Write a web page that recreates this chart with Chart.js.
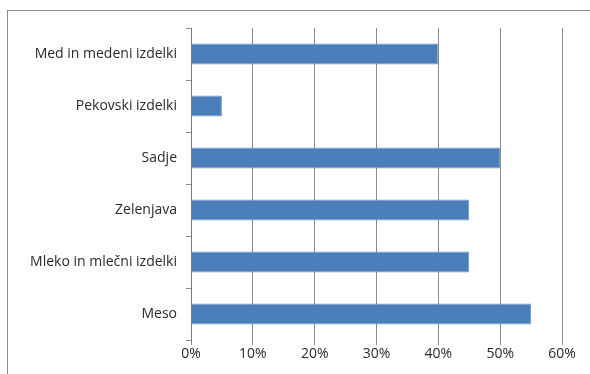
<!DOCTYPE html>
<html>
<head>
<meta charset="utf-8">
<script src="https://cdn.jsdelivr.net/npm/chart.js@4/dist/chart.umd.min.js"></script>
<style>
  html, body { margin: 0; padding: 0; background: #fff; }
  #wrap { position: relative; width: 590px; height: 374px; }
  #frame { position: absolute; left: 7px; top: 10px; width: 600px; height: 400px;
           border-top: 1px solid #8a8a8a; border-left: 1px solid #8a8a8a; }
  canvas { position: absolute; left: 0; top: 0; }
</style>
</head>
<body>
<div id="wrap">
  <div id="frame"></div>
  <canvas id="barChart" width="590" height="374"></canvas>
</div>
<script>
var categories = ["Med in medeni izdelki", "Pekovski izdelki", "Sadje", "Zelenjava", "Mleko in mlečni izdelki", "Meso"];
var shares = [40, 5, 50, 45, 45, 55];
var tickValues = [0, 10, 20, 30, 40, 50, 60];

var labelFont = { family: "Open Sans", size: 14 };

var ctx = document.getElementById("barChart").getContext('2d');
new Chart(ctx, {
    type: 'bar',
    data: {
        labels: categories,
        datasets: [
            {
                data: shares,
                backgroundColor: "#4a7ebb",
                borderColor: "#6f98cc",
                borderWidth: 1,
                borderSkipped: 'start',
                barPercentage: 0.8,
                categoryPercentage: 0.5
            }
        ]
    },
    options: {
        indexAxis: 'y',
        responsive: false,
        animation: false,
        layout: { padding: { left: 0, top: 28, right: 28, bottom: 0 } },
        plugins: { legend: { display: false }, tooltip: { enabled: false } },
        scales: {
            x: {
                min: 0,
                max: 60,
                afterBuildTicks: function (scale) {
                    scale.ticks = tickValues.map(function (v) { return { value: v }; });
                },
                afterFit: function (scale) { scale.height = 34; },
                grid: { color: "#8c8c8c", lineWidth: 1, tickLength: 5, drawTicks: true },
                border: { display: false },
                ticks: {
                    color: "#2a2a2a",
                    font: labelFont,
                    padding: 1,
                    maxRotation: 0,
                    callback: function (v) { return v + "%"; }
                }
            },
            y: {
                afterFit: function (scale) { scale.width = 191; },
                grid: { drawOnChartArea: false, color: "#8c8c8c", tickLength: 5, offset: true },
                border: { display: true, color: "#7a7a7a" },
                ticks: {
                    color: "#2a2a2a",
                    font: labelFont,
                    padding: 9
                }
            }
        }
    }
});
</script>
</body>
</html>
